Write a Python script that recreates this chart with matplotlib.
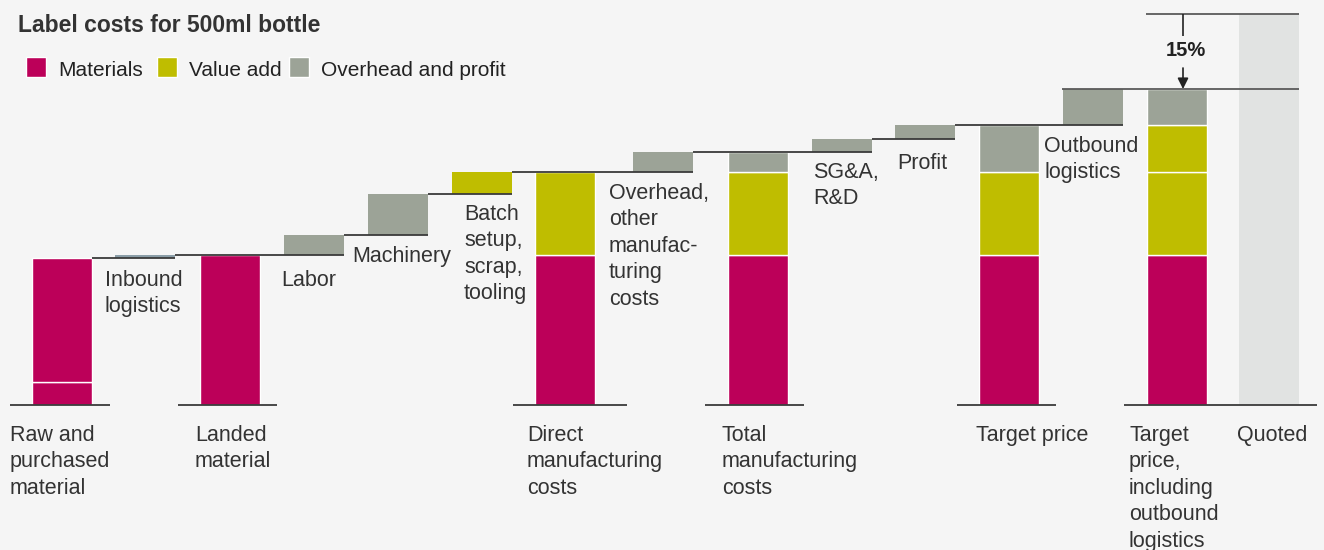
import matplotlib
matplotlib.use("Agg")
import matplotlib.pyplot as plt
from matplotlib.patches import Rectangle

plt.rcParams['font.family'] = ['Liberation Sans', 'DejaVu Sans']

# colours
MAGENTA = '#bc0059'
OLIVE = '#bfbd00'
GREY = '#9ca397'
STEEL = '#8b9ea8'
QUOTED = '#e1e3e2'
INK = '#333333'
BG = '#f5f5f5'

# ---- data (cost units) ----
title = 'Label costs for 500ml bottle'
legend_labels = ['Materials', 'Value add', 'Overhead and profit']
legend_colors = [MAGENTA, OLIVE, GREY]

total_labels = ['Raw and\npurchased\nmaterial', 'Landed\nmaterial',
                'Direct\nmanufacturing\ncosts', 'Total\nmanufacturing\ncosts',
                'Target price', 'Target\nprice,\nincluding\noutbound\nlogistics']
total_stacks = [[23, 124], [150], [150, 83], [150, 83, 20], [150, 83, 47], [150, 83, 47, 36]]
total_colors = [[MAGENTA, MAGENTA], [MAGENTA], [MAGENTA, OLIVE], [MAGENTA, OLIVE, GREY],
                [MAGENTA, OLIVE, GREY], [MAGENTA, OLIVE, OLIVE, GREY]]

step_labels = ['Inbound\nlogistics', 'Labor', 'Machinery', 'Batch\nsetup,\nscrap,\ntooling',
               'Overhead,\nother\nmanufac-\nturing\ncosts', 'SG&A,\nR&D', 'Profit',
               'Outbound\nlogistics']
step_values = [3, 20, 41, 22, 20, 13, 14, 36]
step_colors = [STEEL, GREY, GREY, OLIVE, GREY, GREY, GREY, GREY]

quoted_label = 'Quoted'
quoted_value = 391
gap_label = '15%'

# ---- layout (pixels) ----
W, H = 1324, 550
BASE_PX = 405          # baseline row, measured from the top
LINE = 26.4            # text line spacing
BAR_W = 59.5
# bar order: T0 S0 T1 S1 S2 S3 T2 S4 T3 S5 S6 T4 S7 T5 Q
order = ['T0', 'S0', 'T1', 'S1', 'S2', 'S3', 'T2', 'S4', 'T3', 'S5', 'S6', 'T4', 'S7', 'T5', 'Q']
lefts = [32, 115, 200, 284, 368, 452, 535, 633, 728, 812, 895, 979, 1063, 1147, 1239]
left_of = dict(zip(order, lefts))
baselines = [(10, 110), (178, 277), (513, 627), (705, 804), (957, 1056), (1124, 1317)]
total_text = [(10, 441), (195, 441), (527, 441), (722, 441), (976, 441), (1129, 441)]
quoted_text = (1237, 441)
step_text = [(105, 286), (281, 286), (352, 262), (464, 220), (609, 199),
             (813, 178), (897, 169), (1044, 152)]


def y(px):
    # pixel row from the top -> data value
    return BASE_PX - px


fig = plt.figure(figsize=(W / 100, H / 100), dpi=100, facecolor=BG)
ax = fig.add_axes([0, 0, 1, 1])
ax.set_facecolor(BG)
ax.set_xlim(0, W)
ax.set_ylim(BASE_PX - H, BASE_PX)
ax.axis('off')

# quoted bar
ax.bar(left_of['Q'], quoted_value, BAR_W, align='edge', color=QUOTED, linewidth=0, zorder=1)

# stacked total bars
for i, (stack, cols) in enumerate(zip(total_stacks, total_colors)):
    x0 = left_of['T%d' % i]
    bottom = 0
    for val, col in zip(stack, cols):
        ax.bar(x0, val, BAR_W, bottom=bottom, align='edge', color=col,
               edgecolor='white', linewidth=1.0, zorder=2)
        bottom += val

# floating step bars and their connector lines
level = sum(total_stacks[0])
prev_right = left_of['T0'] + BAR_W
for i, (val, col) in enumerate(zip(step_values, step_colors)):
    x0 = left_of['S%d' % i]
    ax.bar(x0, val, BAR_W, bottom=level, align='edge', color=col, linewidth=0, zorder=2)
    ax.hlines(level, prev_right, x0 + BAR_W, color='#3a3a3a', lw=1.3, zorder=3)
    prev_right = x0 + BAR_W
    level += val

# baselines
for x_a, x_b in baselines:
    ax.hlines(0, x_a, x_b, color='#3a3a3a', lw=1.3, zorder=3)

# gap between target price incl. outbound logistics and quote
top_target = sum(total_stacks[-1])
q_right = left_of['Q'] + BAR_W
ax.hlines(top_target, left_of['S7'] - 1, q_right, color='#5a5a5a', lw=1.3, zorder=3)
ax.hlines(quoted_value, left_of['T5'] - 1, q_right, color='#5a5a5a', lw=1.3, zorder=3)
ax_x = left_of['T5'] + 36
ax.vlines(ax_x, quoted_value, y(36), color='#222222', lw=1.2, zorder=3)
ax.annotate('', xy=(ax_x, top_target), xytext=(ax_x, y(68)),
            arrowprops=dict(arrowstyle='-|>', color='#222222', lw=1.2,
                            mutation_scale=16, shrinkA=0, shrinkB=0))
ax.text(ax_x + 3, y(50), gap_label, fontsize=14.5, fontweight='bold', color='#222222',
        ha='center', va='center')


def put_lines(x, baseline_px, text, size=15.5, **kw):
    for k, line in enumerate(text.split('\n')):
        ax.text(x, y(baseline_px + k * LINE), line, fontsize=size, color=INK,
                ha='left', va='baseline', **kw)


for (tx, tb), lab in zip(total_text, total_labels):
    put_lines(tx, tb, lab)
put_lines(quoted_text[0], quoted_text[1], quoted_label)
for (tx, tb), lab in zip(step_text, step_labels):
    put_lines(tx, tb, lab)

# title and legend
put_lines(18, 32, title, size=16.5, fontweight='bold')
sq_x = [26, 157, 289]
tx_x = [58, 189, 321]
for sx, lx, lab, col in zip(sq_x, tx_x, legend_labels, legend_colors):
    ax.add_patch(Rectangle((sx, y(77)), 20, 20, facecolor=col, edgecolor='white', lw=1.0))
    ax.text(lx, y(76), lab, fontsize=15, color='#222222', ha='left', va='baseline')

fig.savefig('out.png', dpi=100, facecolor=BG)
